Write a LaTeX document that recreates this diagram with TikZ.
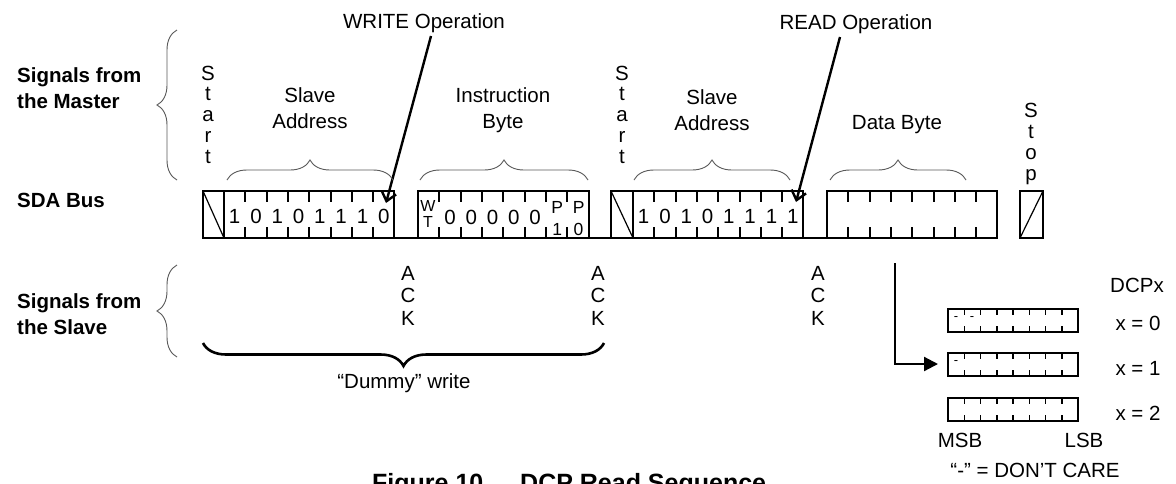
\documentclass[tikz,border=0pt]{standalone}
\usepackage{fontspec}
\setmainfont{Liberation Sans}
\usetikzlibrary{decorations.pathreplacing,arrows.meta}
\begin{document}
\begin{tikzpicture}[x=1pt,y=-1pt,
  lbl/.style={inner sep=0pt, anchor=base, font=\fontsize{20.5}{24}\selectfont},
  blbl/.style={inner sep=0pt, anchor=base west, font=\fontsize{20.5}{24}\selectfont\bfseries},
  ttl/.style={inner sep=0pt, anchor=base west, font=\fontsize{25}{30}\selectfont\bfseries},
  small/.style={inner sep=0pt, anchor=base, font=\fontsize{17.5}{20}\selectfont},
  stackw/.style={inner sep=0pt, anchor=base, font=\fontsize{16}{18}\selectfont},
  tiny/.style={inner sep=0pt, anchor=base, font=\fontsize{13}{15}\selectfont},
  bus/.style={line width=2.2pt},
  diag/.style={line width=1.2pt},
  tick/.style={line width=2pt},
  reg/.style={line width=1.5pt},
  thinbrace/.style={decorate, decoration={brace, amplitude=20pt}, line width=0.9pt, draw=black!65},
  bigbrace/.style={decorate, decoration={brace, amplitude=23pt}, line width=2.6pt},
  oparrow/.style={line width=2.4pt, -{Straight Barb[length=9pt,width=15pt]}},
  dcparrow/.style={line width=2.2pt, -{Triangle[length=14pt,width=14pt]}}
]
\clip (0,0) rectangle (1176,483);
\fill[white] (0,0) rectangle (1176,483);

% ---- left labels
\node[blbl] (m1) at (17,82) {Signals from};
\node[blbl] (m2) at (17,108) {the Master};
\node[blbl] (sda) at (17,207) {SDA Bus};
\node[blbl] (s1) at (17,308) {Signals from};
\node[blbl] (s2) at (17,334) {the Slave};
\draw[thinbrace] (177,180) -- (177,30);
\draw[thinbrace] (177,357) -- (177,265);

% ---- operation labels and arrows
\node[lbl] (wlab) at (424,28) {WRITE Operation};
\node[lbl] (rlab) at (856,29) {READ Operation};
\coordinate (wstart) at (431,36);
\coordinate (wtip) at (386,203);
\coordinate (rstart) at (840,37);
\coordinate (rtip) at (796,202);
\draw[oparrow] (wstart) -- (wtip);
\draw[oparrow] (rstart) -- (rtip);

% ---- Start / Stop vertical labels
\foreach \c [count=\i] in {S,t,a,r,t} {
  \node[lbl] (sta\i) at (208,{80+20.75*(\i-1)}) {\c};
  \node[lbl] (stb\i) at (622,{80+20.75*(\i-1)}) {\c};
}
\foreach \c [count=\i] in {S,t,o,p}
  \node[lbl] (stp\i) at (1031,{117+21*(\i-1)}) {\c};

% ---- field labels
\node[lbl] (sa1a) at (310,102) {Slave};
\node[lbl] (sa1b) at (310,128) {Address};
\node[lbl] (iba) at (503,102) {Instruction};
\node[lbl] (ibb) at (503,128) {Byte};
\node[lbl] (sa2a) at (712,104) {Slave};
\node[lbl] (sa2b) at (712,130) {Address};
\node[lbl] (dba) at (897,129) {Data Byte};

% ---- top braces
\draw[thinbrace] (227,180) -- (393,180);
\draw[thinbrace] (420,180) -- (588,180);
\draw[thinbrace] (634,180) -- (790,180);
\draw[thinbrace] (830,180) -- (966,180);

% ---- SDA bus
\draw[bus] (203,238) -- (997,238);
\draw[bus] (203,191) rectangle (394,238);
\draw[bus] (224,191) -- (224,238);
\draw[diag] (203,191) -- (224,238);
\draw[bus] (418,191) rectangle (589,238);
\draw[bus] (611,191) rectangle (803,238);
\draw[bus] (633,191) -- (633,238);
\draw[diag] (611,191) -- (633,238);
\draw[bus] (827,191) rectangle (997,238);
\draw[bus] (1020,191) rectangle (1043,238);
\draw[diag] (1020,238) -- (1043,191);
\foreach \x in {224,418,633,827} {
  \foreach \k in {1,...,7} {
    \draw[tick] ({\x+\k*21.3},191) -- ++(0,11);
    \draw[tick] ({\x+\k*21.3},238) -- ++(0,-11);
  }
}
% bits
\foreach \b [count=\i] in {1,0,1,0,1,1,1,0}
  \node[lbl] (ba\i) at ({224+21.3*(\i-0.5)},223) {\b};
\foreach \b [count=\i] in {1,0,1,0,1,1,1,1}
  \node[lbl] (bb\i) at ({633+21.3*(\i-0.5)},223) {\b};
\foreach \i in {2,...,6}
  \node[lbl] (ib\i) at ({418+21.3*(\i-0.5)},224) {0};
\node[stackw] (ibw) at (428,211) {W};
\node[stackw] (ibt) at (428,227) {T};
\node[small] (ip1) at (557.3,213) {P};
\node[small] (in1) at (557.3,235) {1};
\node[small] (ip0) at (578.6,213) {P};
\node[small] (in0) at (578.6,235) {0};

% ---- ACK labels
\foreach \x [count=\j] in {408,598,818}
  \foreach \c [count=\i] in {A,C,K}
    \node[lbl] (ack\j\i) at (\x,{280+22.5*(\i-1)}) {\c};

% ---- dummy write brace
\draw[bigbrace] (604,343) -- (203,343);
\node[lbl] (dummy) at (404,388) {“Dummy” write};

% ---- DCP registers
\coordinate (dstart) at (895,263);
\coordinate (dtip) at (938,364);
\draw[dcparrow] (dstart) |- (dtip);
\foreach \y [count=\j] in {309,353,398} {
  \draw[reg] (948,\y) rectangle (1078,{\y+23});
  \foreach \k in {1,...,7} {
    \draw[reg] ({948+\k*16.25},\y) -- ++(0,6);
    \draw[reg] ({948+\k*16.25},{\y+23}) -- ++(0,-6);
  }
}
\node[tiny] (dc1) at (956,320) {-};
\node[tiny] (dc2) at (972,320) {-};
\node[tiny] (dc3) at (956,364) {-};
\node[lbl] (dcpx) at (1137,292) {DCPx};
\node[lbl] (x0) at (1138,330) {x = 0};
\node[lbl] (x1) at (1138,375) {x = 1};
\node[lbl] (x2) at (1138,420) {x = 2};
\node[lbl] (msb) at (960,447) {MSB};
\node[lbl] (lsb) at (1084,447) {LSB};
\node[lbl] (dc) at (1035,477) {“-” = DON’T CARE};

% ---- title (cut by the lower edge, as in the reference)
\node[ttl] (fig) at (372,491) {Figure 10.};
\node[ttl] (figt) at (520,491) {DCP Read Sequence};
\end{tikzpicture}
\end{document}
